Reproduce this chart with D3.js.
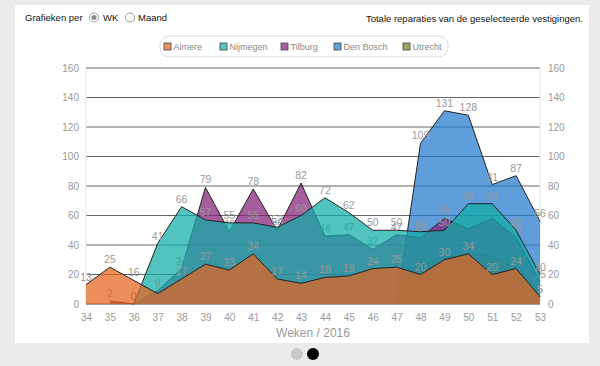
<!DOCTYPE html>
<html><head><meta charset="utf-8">
<script src="https://cdn.jsdelivr.net/npm/d3@7/dist/d3.min.js"></script>
<style>
body{margin:0;background:#ebebeb;font-family:"Liberation Sans",Arial,sans-serif}
svg{display:block}
</style>
</head><body>
<svg id="c" width="600" height="366"></svg>
<script>
const weeks = [34,35,36,37,38,39,40,41,42,43,44,45,46,47,48,49,50,51,52,53];
const yTicks = [0,20,40,60,80,100,120,140,160];
const seriesNames = ["Almere","Nijmegen","Tilburg","Den Bosch","Utrecht"];
const almere   = [13,25,16,7,17,27,23,34,17,14,18,19,24,25,20,30,34,20,24,5];
const nijmegen = [null,null,0,41,66,57,55,55,52,60,72,62,50,50,49,50,68,68,50,20];
const tilburg  = [null,2,0,9,24,79,49,78,50,82,46,47,37,47,45,58,51,58,45,15];
const denBosch = [null,null,null,null,null,null,null,null,null,null,null,null,null,0,109,131,128,81,87,56];
const utrecht  = [null,null,null,null,null,null,null,null,null,null,null,null,null,20,26,31,34,32,24,5];
const xTitle = "Weken / 2016";

const colors = {
  "Almere":"rgb(228,100,30)",
  "Nijmegen":"rgb(15,172,166)",
  "Tilburg":"rgb(130,30,120)",
  "Den Bosch":"rgb(34,119,205)",
  "Utrecht":"rgb(110,130,40)"
};
const dataByName = {"Almere":almere,"Nijmegen":nijmegen,"Tilburg":tilburg,"Den Bosch":denBosch,"Utrecht":utrecht};
const drawOrder = ["Den Bosch","Utrecht","Tilburg","Nijmegen","Almere"];

const svg = d3.select("#c");
svg.append("rect").attr("x",15).attr("y",5).attr("width",574).attr("height",338).attr("fill","#fff");

const hdr = svg.append("g").attr("font-size",9.5).attr("fill","#111");
hdr.append("text").attr("x",25).attr("y",21).text("Grafieken per");
hdr.append("circle").attr("cx",94).attr("cy",17.5).attr("r",4.5).attr("fill","#fff").attr("stroke","#999");
hdr.append("circle").attr("cx",94).attr("cy",17.5).attr("r",2.5).attr("fill","#888");
hdr.append("text").attr("x",103).attr("y",21).text("WK");
hdr.append("circle").attr("cx",130).attr("cy",17.5).attr("r",4.5).attr("fill","#fff").attr("stroke","#999");
hdr.append("text").attr("x",138).attr("y",21).text("Maand");
hdr.append("text").attr("x",583).attr("y",22).attr("text-anchor","end").text("Totale reparaties van de geselecteerde vestigingen.");

svg.append("rect").attr("x",160).attr("y",36).attr("width",288).attr("height",21).attr("rx",9)
  .attr("fill","#fff").attr("stroke","#ddd");
const legX = [164,220,281,334,403];
seriesNames.forEach((n,i)=>{
  svg.append("rect").attr("x",legX[i]).attr("y",43).attr("width",7).attr("height",7)
    .attr("fill",colors[n]).attr("fill-opacity",0.7).attr("stroke","#444").attr("stroke-width",0.8);
  svg.append("text").attr("x",legX[i]+9.5).attr("y",50).attr("font-size",9).attr("fill","#888").text(n);
});

const x = d3.scaleLinear().domain([34,53]).range([86,540]);
const y = d3.scaleLinear().domain([0,160]).range([304,68]);

svg.append("g").selectAll("line").data(yTicks).join("line")
  .attr("x1",86).attr("x2",540).attr("y1",d=>y(d)).attr("y2",d=>y(d))
  .attr("stroke",d=>d===0?"#444":"#666").attr("stroke-width",1);
svg.append("line").attr("x1",86).attr("x2",86).attr("y1",68).attr("y2",304).attr("stroke","#e4e4e4");
svg.append("line").attr("x1",540).attr("x2",540).attr("y1",68).attr("y2",304).attr("stroke","#e4e4e4");

const axL = svg.append("g").attr("transform","translate(86,0)")
  .call(d3.axisLeft(y).tickValues(yTicks).tickSize(0).tickPadding(7));
const axR = svg.append("g").attr("transform","translate(540,0)")
  .call(d3.axisRight(y).tickValues(yTicks).tickSize(0).tickPadding(8));
const axB = svg.append("g").attr("transform","translate(0,304)")
  .call(d3.axisBottom(x).tickValues(weeks).tickFormat(d3.format("d")).tickSize(0).tickPadding(10));
[axL,axR,axB].forEach(a=>{
  a.select(".domain").remove();
  a.selectAll("text").attr("fill","#999").attr("font-size",10).attr("font-family","'Liberation Sans',Arial,sans-serif");
});
svg.append("text").attr("x",313).attr("y",337).attr("text-anchor","middle")
  .attr("font-size",12).attr("fill","#999").text(xTitle);

const area = d3.area().defined(d=>d.v!=null).x(d=>x(d.w)).y0(y(0)).y1(d=>y(d.v));
const line = d3.line().defined(d=>d.v!=null).x(d=>x(d.w)).y(d=>y(d.v));
drawOrder.forEach(n=>{
  const pts = weeks.map((w,i)=>({w:w,v:dataByName[n][i]}));
  const g = svg.append("g");
  g.append("path").attr("d",area(pts)).attr("fill",colors[n]).attr("fill-opacity",0.72);
  g.append("path").attr("d",line(pts)).attr("fill","none").attr("stroke","#222").attr("stroke-width",1);
  g.selectAll("text").data(pts.filter(p=>p.v!=null)).join("text")
    .attr("x",p=>x(p.w)).attr("y",p=>y(p.v)-4).attr("text-anchor","middle")
    .attr("font-size",10.5).attr("fill","#999").text(p=>p.v);
});

svg.append("circle").attr("cx",297).attr("cy",354).attr("r",6).attr("fill","#c8c8c8");
svg.append("circle").attr("cx",313).attr("cy",354).attr("r",6).attr("fill","#000");
</script>
</body></html>
